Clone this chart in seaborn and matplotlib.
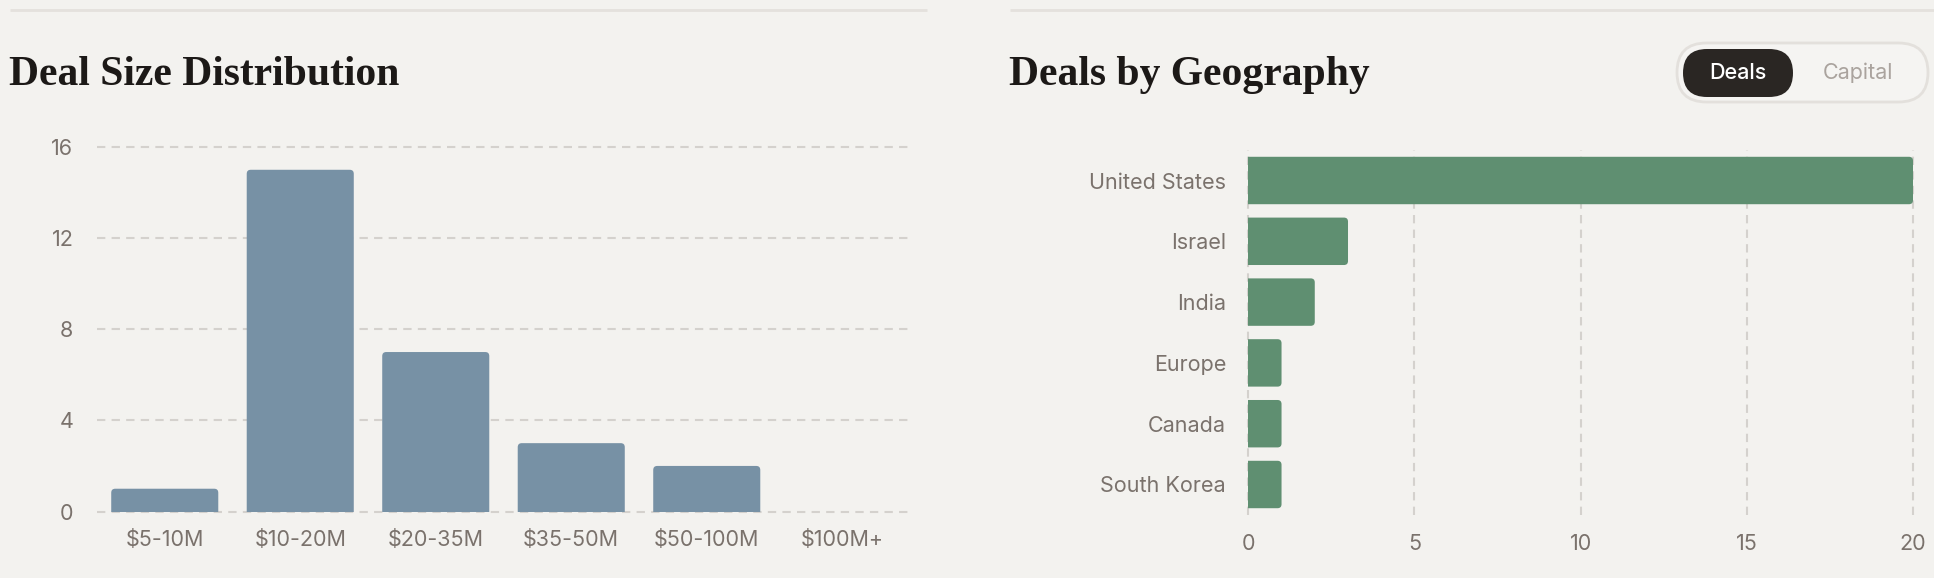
import matplotlib
matplotlib.use("Agg")
import matplotlib.pyplot as plt
from matplotlib.patches import FancyBboxPatch
import seaborn as sns

# data
size_buckets = ["$5-10M", "$10-20M", "$20-35M", "$35-50M", "$50-100M", "$100M+"]
size_counts = [1, 15, 7, 3, 2, 0]
size_ticks = [0, 4, 8, 12, 16]

geo_names = ["United States", "Israel", "India", "Europe", "Canada", "South Korea"]
geo_counts = [20, 3, 2, 1, 1, 1]
geo_ticks = [0, 5, 10, 15, 20]

BG = "#f3f2ef"
GRID = "#d4d1cd"
TICK = "#7a726c"
TITLE = "#1c1917"
BLUE = "#7791a5"
GREEN = "#5f8f71"

W, H = 1934, 578

sns.set_style("white")
plt.rcParams["font.family"] = ["Inter", "DejaVu Sans"]

fig = plt.figure(figsize=(W / 100, H / 100), dpi=100, facecolor=BG)


def px_axes(x0, y0, x1, y1):
    # pixel box (top-left origin) -> figure axes
    return fig.add_axes([x0 / W, 1 - y1 / H, (x1 - x0) / W, (y1 - y0) / H])


def round_bars(ax, radius_px, horizontal=False):
    fig.canvas.draw()
    inv = ax.transData.inverted()
    p0 = inv.transform((0, 0))
    p1 = inv.transform((1, 1))
    ux, uy = abs(p1[0] - p0[0]), abs(p1[1] - p0[1])
    for bar in list(ax.patches):
        x, y = bar.get_x(), bar.get_y()
        w, h = bar.get_width(), bar.get_height()
        bar.remove()
        if w == 0 or h == 0:
            continue
        if horizontal:
            x -= radius_px * ux
            w += radius_px * ux
        else:
            y -= radius_px * uy
            h += radius_px * uy
        p = FancyBboxPatch((x, y), w, h,
                           boxstyle=f"round,pad=0,rounding_size={radius_px * ux}",
                           mutation_aspect=uy / ux, fc=bar.get_facecolor(),
                           ec="none", zorder=3)
        ax.add_patch(p)


# left: deal size distribution
ax1 = px_axes(97, 147, 910, 511.5)
ax1.set_facecolor(BG)
sns.barplot(x=size_buckets, y=size_counts, color=BLUE, width=0.79,
            saturation=1, ax=ax1, zorder=3)
ax1.set_ylim(0, 16)
ax1.set_xlim(-0.5, len(size_buckets) - 0.5)
ax1.set_yticks(size_ticks)
for t in size_ticks:
    ax1.axhline(t, color=GRID, lw=1.5, ls=(0, (4, 3)), zorder=1, clip_on=False)
ax1.set_xlabel("")
ax1.set_ylabel("")
sns.despine(ax=ax1, left=True, bottom=True)
ax1.tick_params(length=0, labelsize=15.5, colors=TICK)
ax1.tick_params(axis="y", pad=17)
ax1.tick_params(axis="x", pad=13)
round_bars(ax1, 4)

# right: deals by geography
ax2 = px_axes(1248.3, 150.1, 1913, 514.9)
ax2.set_facecolor(BG)
sns.barplot(x=geo_counts, y=geo_names, orient="h", color=GREEN, width=0.78,
            saturation=1, ax=ax2, zorder=3)
ax2.set_xlim(0, 20)
ax2.set_ylim(len(geo_names) - 0.5, -0.5)
ax2.set_xticks(geo_ticks)
for t in geo_ticks:
    ax2.axvline(t, color=GRID, lw=1.5, ls=(0, (4, 3)), zorder=1, clip_on=False)
ax2.set_xlabel("")
ax2.set_ylabel("")
sns.despine(ax=ax2, left=True, bottom=True)
ax2.tick_params(length=0, labelsize=15.5, colors=TICK)
ax2.tick_params(axis="y", pad=16)
ax2.tick_params(axis="x", pad=14)
round_bars(ax2, 4, horizontal=True)

# overlay in pixel units for titles, rules and the toggle
ov = fig.add_axes([0, 0, 1, 1], zorder=10)
ov.set_xlim(0, W)
ov.set_ylim(H, 0)
ov.axis("off")
ov.patch.set_alpha(0)

ov.plot([10, 927], [10, 10], color="#e4e1dd", lw=2, solid_capstyle="butt")
ov.plot([1010, W], [10, 10], color="#e4e1dd", lw=2, solid_capstyle="butt")

title_font = dict(family=["Liberation Serif", "DejaVu Serif"], fontweight="bold",
                  fontsize=30, color=TITLE, va="baseline", ha="left")
ov.text(9, 85, "Deal Size Distribution", **title_font)
ov.text(1009, 85, "Deals by Geography", **title_font)

ov.add_patch(FancyBboxPatch((1677, 43), 251, 59,
                            boxstyle="round,pad=0,rounding_size=29.5",
                            fc="#f5f4f2", ec="#e3e0dc", lw=2))
ov.add_patch(FancyBboxPatch((1683, 49), 110, 48,
                            boxstyle="round,pad=0,rounding_size=24",
                            fc="#2a2623", ec="none"))
ov.text(1738, 73, "Deals", color="white", fontsize=15.5, fontweight="medium",
        ha="center", va="center")
ov.text(1858, 73, "Capital", color="#aaa39e", fontsize=15.5, ha="center", va="center")

fig.savefig("out.png", dpi=100, facecolor=BG)
